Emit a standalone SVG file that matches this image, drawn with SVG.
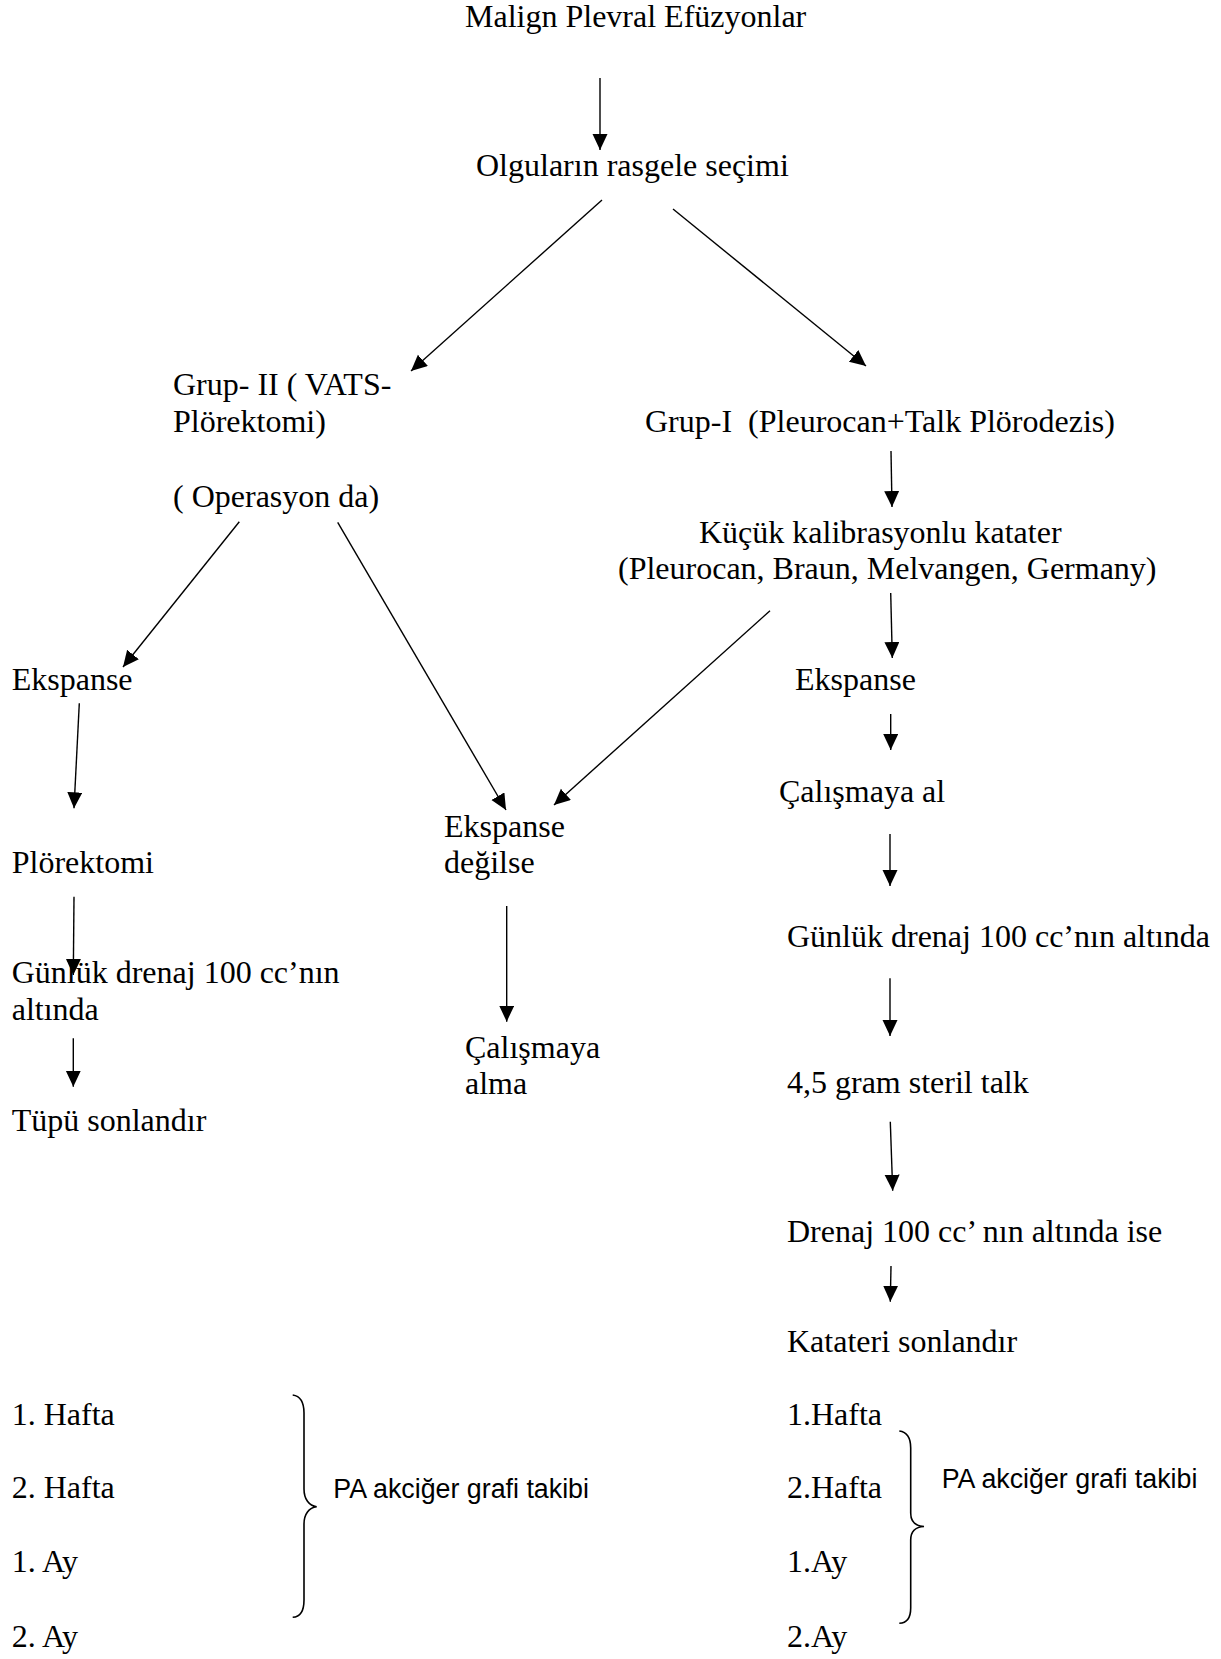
<svg xmlns="http://www.w3.org/2000/svg" width="1221" height="1659" viewBox="0 0 1221 1659">
<style>
  .t { font-family: "Liberation Serif", "Times New Roman", serif; font-size: 32px; fill: #000; white-space: pre; }
  .s { font-family: "Liberation Sans", Arial, sans-serif; font-size: 26.8px; fill: #000; }
  .c { stroke: #000; stroke-width: 1.4; fill: none; marker-end: url(#ah); }
  .b { stroke: #000; stroke-width: 1.6; fill: none; }
</style>
<defs>
  <marker id="ah" markerUnits="userSpaceOnUse" markerWidth="17" markerHeight="16" refX="16" refY="7.5" orient="auto">
    <path d="M0,0 L16,7.5 L0,15 z" fill="#000"/>
  </marker>
</defs>
<rect width="1221" height="1659" fill="#fff"/>

<g id="connectors">
  <line class="c" x1="600" y1="78" x2="600" y2="150"/>
  <line class="c" x1="602" y1="200" x2="411" y2="371"/>
  <line class="c" x1="673" y1="209" x2="866" y2="366"/>
  <line class="c" x1="891" y1="451" x2="892" y2="507"/>
  <line class="c" x1="239.3" y1="521.7" x2="123" y2="667"/>
  <line class="c" x1="337.7" y1="522.3" x2="506" y2="810"/>
  <line class="c" x1="770" y1="610.7" x2="554" y2="805"/>
  <line class="c" x1="890.7" y1="593" x2="892.3" y2="658"/>
  <line class="c" x1="79.3" y1="703.3" x2="74" y2="808.3"/>
  <line class="c" x1="890.7" y1="714" x2="890.7" y2="750"/>
  <line class="c" x1="74" y1="896.7" x2="73.3" y2="975"/>
  <line class="c" x1="506.7" y1="906" x2="506.7" y2="1021.7"/>
  <line class="c" x1="890" y1="834" x2="890" y2="886"/>
  <line class="c" x1="73.3" y1="1038.3" x2="73.3" y2="1086.7"/>
  <line class="c" x1="890" y1="978.3" x2="890" y2="1036"/>
  <line class="c" x1="890.3" y1="1121.7" x2="892.7" y2="1190.7"/>
  <line class="c" x1="891" y1="1266" x2="890.3" y2="1301.7"/>
</g>

<g id="n-malign"><text class="t" x="465" y="27">Malign Plevral Efüzyonlar</text></g>
<g id="n-olgular"><text class="t" x="476" y="176">Olguların rasgele seçimi</text></g>
<g id="n-grup2">
  <text class="t" x="173" y="395">Grup- II ( VATS-</text>
  <text class="t" x="173" y="432">Plörektomi)</text>
</g>
<g id="n-grup1"><text class="t" x="645" y="432" xml:space="preserve">Grup-I  (Pleurocan+Talk Plörodezis)</text></g>
<g id="n-operasyon"><text class="t" x="173" y="507">( Operasyon da)</text></g>
<g id="n-kucuk">
  <text class="t" x="699" y="543">Küçük kalibrasyonlu katater</text>
  <text class="t" x="618" y="579">(Pleurocan, Braun, Melvangen, Germany)</text>
</g>
<g id="n-ekspanse-l"><text class="t" x="11.7" y="690">Ekspanse</text></g>
<g id="n-ekspanse-r"><text class="t" x="795" y="690">Ekspanse</text></g>
<g id="n-calismaya-al"><text class="t" x="779" y="802">Çalışmaya al</text></g>
<g id="n-degilse">
  <text class="t" x="444" y="836.7">Ekspanse</text>
  <text class="t" x="444" y="873.3">değilse</text>
</g>
<g id="n-plorektomi"><text class="t" x="11.7" y="873.3">Plörektomi</text></g>
<g id="n-gunluk-l">
  <text class="t" x="11.7" y="983.3">Günlük drenaj 100 cc’nın</text>
  <text class="t" x="11.7" y="1020">altında</text>
</g>
<g id="n-gunluk-r"><text class="t" x="787" y="946.7">Günlük drenaj 100 cc’nın altında</text></g>
<g id="n-calismaya-alma">
  <text class="t" x="465" y="1057.7">Çalışmaya</text>
  <text class="t" x="465" y="1094.3">alma</text>
</g>
<g id="n-talk"><text class="t" x="787" y="1093.3">4,5 gram steril talk</text></g>
<g id="n-tupu"><text class="t" x="11.7" y="1130.7">Tüpü sonlandır</text></g>
<g id="n-drenaj"><text class="t" x="787" y="1241.7">Drenaj 100 cc’ nın altında ise</text></g>
<g id="n-katateri"><text class="t" x="787" y="1351.7">Katateri sonlandır</text></g>

<g id="n-takip-l">
  <text class="t" x="11.7" y="1425">1. Hafta</text>
  <text class="t" x="11.7" y="1498.3">2. Hafta</text>
  <text class="t" x="11.7" y="1571.7">1. Ay</text>
  <text class="t" x="11.7" y="1646.7">2. Ay</text>
  <path class="b" d="M292.7,1395 C300,1396 304,1402 304,1413 L304,1489 C304,1499 309,1506 316.7,1506.7 C309,1507.5 304,1514 304,1524 L304,1600 C304,1611 300,1617 292.7,1617.3"/>
  <text class="s" x="333.3" y="1498.3">PA akciğer grafi takibi</text>
</g>
<g id="n-takip-r">
  <text class="t" x="787" y="1425">1.Hafta</text>
  <text class="t" x="787" y="1498.3">2.Hafta</text>
  <text class="t" x="787" y="1571.7">1.Ay</text>
  <text class="t" x="787" y="1646.7">2.Ay</text>
  <path class="b" d="M899.3,1431 C907,1432 910.7,1438 910.7,1448 L910.7,1513 C910.7,1521 915,1526 924,1526.5 C915,1527 910.7,1532 910.7,1540 L910.7,1608 C910.7,1618 907,1623 899.3,1623.3"/>
  <text class="s" x="941.7" y="1488.3">PA akciğer grafi takibi</text>
</g>
</svg>
